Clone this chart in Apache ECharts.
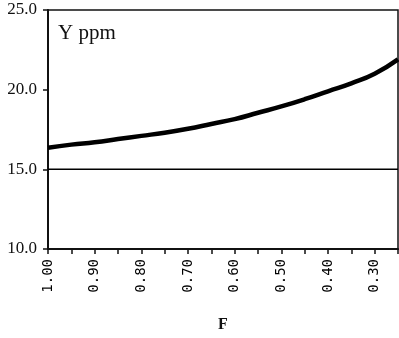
<!DOCTYPE html>
<html>
<head>
<meta charset="utf-8">
<script src="https://cdn.jsdelivr.net/npm/echarts@6/dist/echarts.min.js"></script>
<style>
  html, body { margin: 0; padding: 0; background: #fff; }
  #chart { width: 399px; height: 338px; }
</style>
</head>
<body>
<div id="chart"></div>
<script>
// Fraction F (axis runs from 1.00 down to 0.25)
const fValues = [1.00, 0.95, 0.90, 0.85, 0.80, 0.75, 0.70, 0.65, 0.60, 0.55, 0.50, 0.45, 0.40, 0.35, 0.30, 0.25];
// Y concentration in ppm at each F
const yPpm = [16.35, 16.55, 16.7, 16.9, 17.1, 17.3, 17.55, 17.85, 18.15, 18.55, 18.95, 19.4, 19.9, 20.4, 21.0, 21.9];
// Reference level
const refLevel = 15.0;
// Axis tick positions
const xLabelValues = [1.00, 0.90, 0.80, 0.70, 0.60, 0.50, 0.40, 0.30];
const xTickValues = [1.00, 0.95, 0.90, 0.85, 0.80, 0.75, 0.70, 0.65, 0.60, 0.55, 0.50, 0.45, 0.40, 0.35, 0.30, 0.25];

const serif = '"Liberation Serif", "DejaVu Serif", serif';
const mono = '"DejaVu Sans Mono", "Liberation Mono", monospace';

const chart = echarts.init(document.getElementById('chart'));
chart.setOption({
  animation: false,
  backgroundColor: '#fff',
  grid: {
    left: 48, right: 1, top: 10, bottom: 85,
    show: true, borderColor: '#111', borderWidth: 1.5
  },
  title: {
    text: 'Y ppm',
    left: 58, top: 23, padding: 0,
    textStyle: { fontFamily: serif, fontSize: 21, fontWeight: 'normal', color: '#111' }
  },
  xAxis: {
    type: 'value',
    inverse: true,
    min: 0.25, max: 1.0,
    name: 'F',
    nameLocation: 'middle',
    nameGap: 68,
    nameTextStyle: { fontFamily: serif, fontSize: 16, fontWeight: 'bold', color: '#111' },
    axisLine: { lineStyle: { color: '#111', width: 2 } },
    axisTick: { inside: false, length: 5, lineStyle: { color: '#111', width: 1.5 }, customValues: xTickValues },
    axisLabel: {
      customValues: xLabelValues,
      rotate: 90,
      margin: 10,
      fontFamily: mono, fontSize: 14, color: '#000',
      formatter: v => v.toFixed(2)
    },
    splitLine: { show: false }
  },
  yAxis: {
    type: 'value',
    min: 10, max: 25, interval: 5,
    axisLine: { show: true, lineStyle: { color: '#111', width: 2 } },
    axisTick: { show: true, length: 5, lineStyle: { color: '#111', width: 1.5 } },
    axisLabel: {
      margin: 11,
      fontFamily: serif, fontSize: 17, color: '#111',
      formatter: v => v.toFixed(1)
    },
    splitLine: { show: false }
  },
  series: [
    {
      type: 'line',
      data: fValues.map((f, i) => [f, yPpm[i]]),
      smooth: true,
      showSymbol: false,
      lineStyle: { color: '#000', width: 4.5 }
    },
    {
      type: 'line',
      data: [[1.0, refLevel], [0.25, refLevel]],
      showSymbol: false,
      lineStyle: { color: '#000', width: 1.5 }
    }
  ]
});
</script>
</body>
</html>
